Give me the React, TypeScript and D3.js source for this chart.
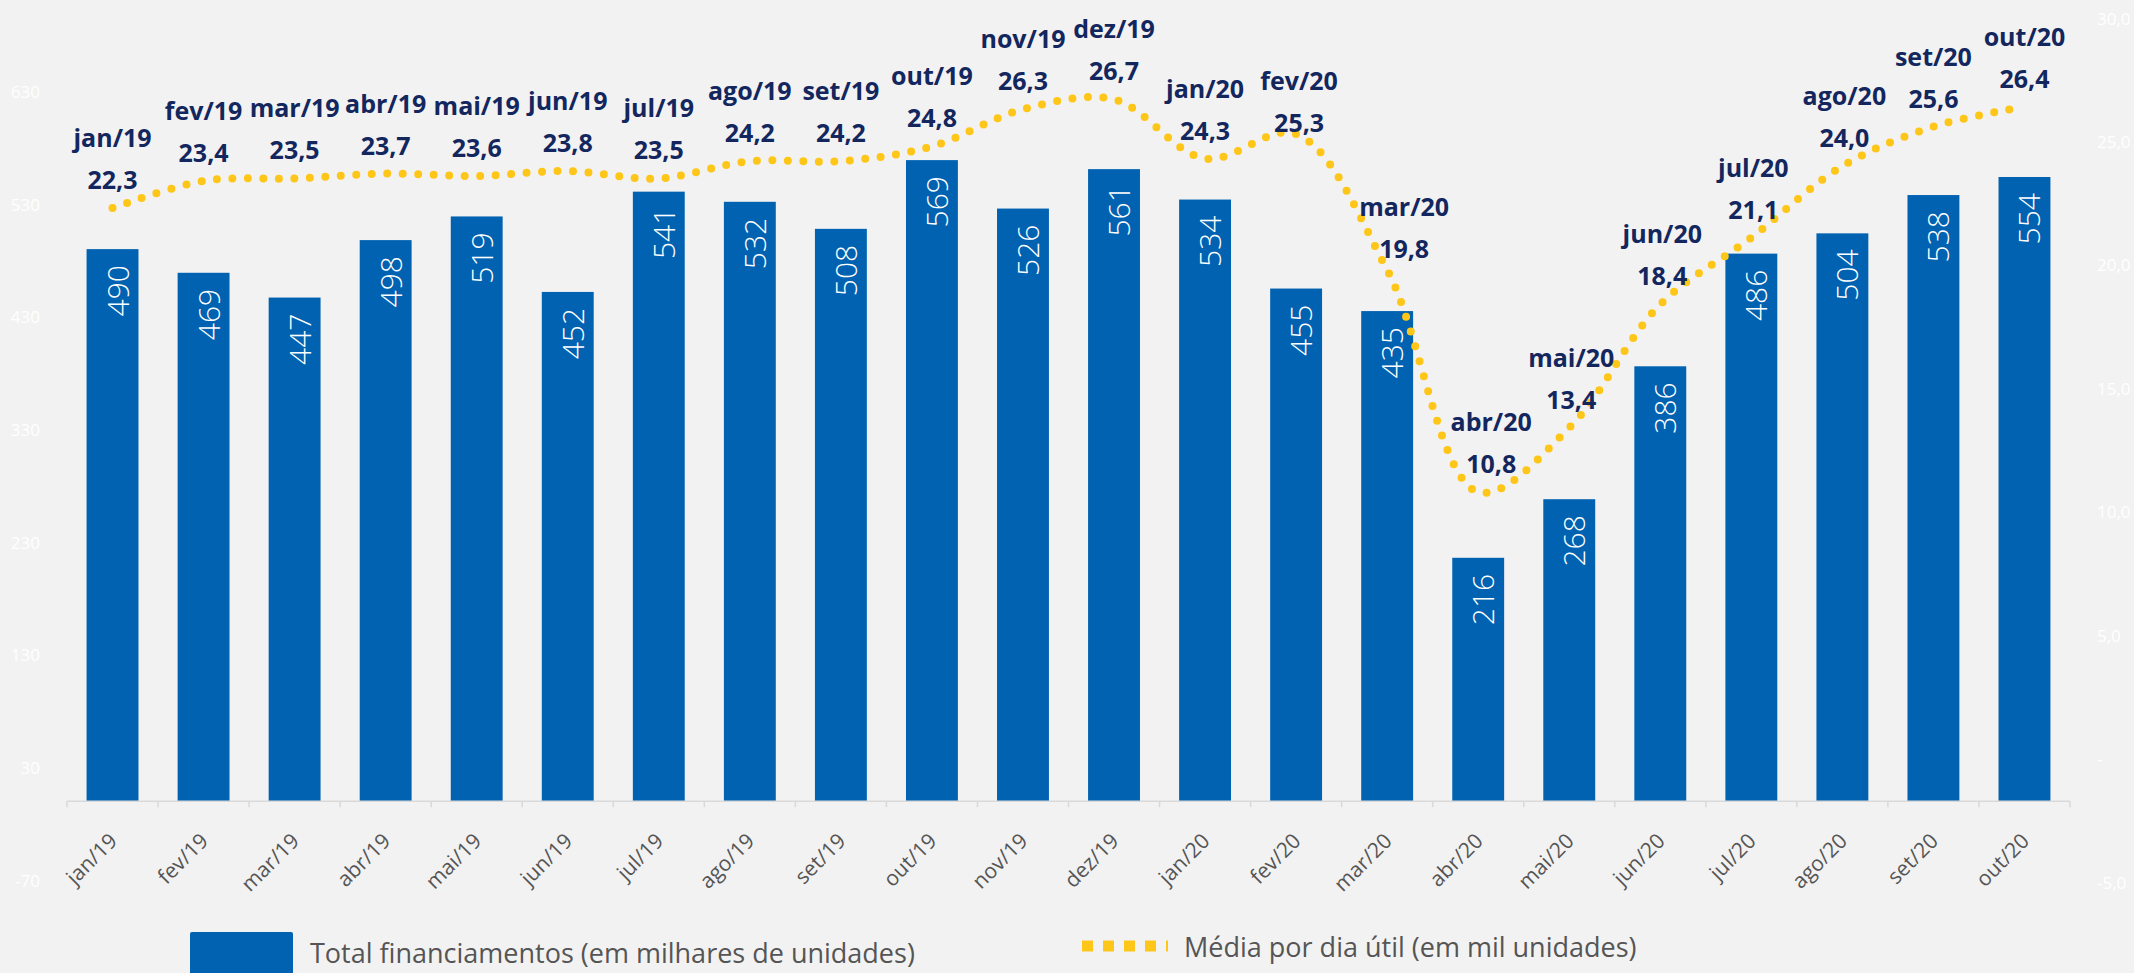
import React from "react";
import * as d3 from "d3";

const months = ["jan/19","fev/19","mar/19","abr/19","mai/19","jun/19","jul/19","ago/19","set/19","out/19","nov/19","dez/19","jan/20","fev/20","mar/20","abr/20","mai/20","jun/20","jul/20","ago/20","set/20","out/20"];
const totalFinanciamentos = [490,469,447,498,519,452,541,532,508,569,526,561,534,455,435,216,268,386,486,504,538,554];
const mediaDiaUtil = [22.3,23.4,23.5,23.7,23.6,23.8,23.5,24.2,24.2,24.8,26.3,26.7,24.3,25.3,19.8,10.8,13.4,18.4,21.1,24.0,25.6,26.4];
const leftTicks = [630,530,430,330,230,130,30,-70];
const rightTicks = [30,25,20,15,10,5,0,-5];
// label placement tweaks (px): horizontal shift and lift of the value label above the point
const labelDx = [0,0,0,0,0,0,0,0,0,0,0,0,0,3,17,13,2,2,2,2,0,0];
const labelLift = [29,29,29,29,29,29,29,29,29,29,29,29,29,12,22,29,29,29,29,29,29,29];

const W = 2134, H = 973;
const FONT = "'Open Sans', 'Noto Sans', sans-serif";
const BLUE = "#0062B1";
const YELLOW = "#FFC61A";
const NAVY = "#13275E";

const fmt = (v: number) => v.toFixed(1).replace(".", ",");
const fmtRight = (v: number) => (v === 0 ? "-" : v.toFixed(1).replace(".", ","));

export default function App() {
  const x = d3.scaleBand<string>().domain(months).range([67, 2070]).paddingInner(0.43).paddingOuter(0.215);
  const yL = d3.scaleLinear().domain([-70, 630]).range([880, 91.4]);
  const yR = d3.scaleLinear().domain([-5, 30]).range([882, 18]);
  const base = yL(0);
  const cx = (m: string) => (x(m) as number) + x.bandwidth() / 2;

  const line = d3
    .line<number>()
    .x((_, i) => cx(months[i]))
    .y((d) => yR(d))
    .curve(d3.curveCatmullRom.alpha(0.5));

  const step = x.step();
  const tickXs = d3.range(months.length + 1).map((i) => 67 + i * step);

  return (
    <div style={{ position: "absolute", left: 0, top: 0 }}>
      <svg width={W} height={H} style={{ display: "block", fontFamily: FONT }}>
        <rect x={0} y={0} width={W} height={H} fill="#F2F2F2" />

        {/* left axis labels */}
        {leftTicks.map((t) => (
          <text key={"l" + t} x={40} y={yL(t)} textAnchor="end" dominantBaseline="central" fontSize={17} fill="#FFFFFF">
            {t}
          </text>
        ))}
        {/* right axis labels */}
        {rightTicks.map((t) => (
          <text key={"r" + t} x={2097} y={yR(t)} textAnchor="start" dominantBaseline="central" fontSize={17} fill="#FFFFFF">
            {fmtRight(t)}
          </text>
        ))}

        {/* bars */}
        {months.map((m, i) => (
          <rect key={"b" + m} x={x(m)} y={yL(totalFinanciamentos[i])} width={x.bandwidth()} height={base - yL(totalFinanciamentos[i])} fill={BLUE} />
        ))}
        {/* bar value labels */}
        {months.map((m, i) => (
          <text
            key={"bv" + m}
            transform={`translate(${cx(m) + 16},${yL(totalFinanciamentos[i]) + 16}) rotate(-90)`}
            textAnchor="end"
            fontSize={30}
            fontWeight={300}
            fill="#FFFFFF"
          >
            {totalFinanciamentos[i]}
          </text>
        ))}

        {/* x axis */}
        <line x1={67} x2={2070} y1={base} y2={base} stroke="#D9D9D9" strokeWidth={1.5} />
        {tickXs.map((tx, i) => (
          <line key={"t" + i} x1={tx} x2={tx} y1={base} y2={base + 6} stroke="#D9D9D9" strokeWidth={1.5} />
        ))}
        {months.map((m) => (
          <text
            key={"xl" + m}
            transform={`translate(${cx(m) + 6},${base + 41}) rotate(-45)`}
            textAnchor="end"
            fontSize={21}
            fontWeight={400}
            fill="#555555"
          >
            {m}
          </text>
        ))}

        {/* dotted line */}
        <path
          d={line(mediaDiaUtil) || ""}
          fill="none"
          stroke={YELLOW}
          strokeWidth={8}
          strokeLinecap="round"
          strokeDasharray="0 15.5"
        />

        {/* line labels */}
        {months.map((m, i) => {
          const vy = yR(mediaDiaUtil[i]) - labelLift[i];
          const lx = cx(m) + labelDx[i];
          return (
            <g key={"ll" + m}>
              <text x={lx} y={vy - 42} textAnchor="middle" dominantBaseline="central" fontSize={25} fontWeight={700} fill={NAVY}>
                {m}
              </text>
              <text x={lx} y={vy} textAnchor="middle" dominantBaseline="central" fontSize={25} fontWeight={700} fill={NAVY}>
                {fmt(mediaDiaUtil[i])}
              </text>
            </g>
          );
        })}

        {/* legend */}
        <rect x={190} y={932} width={103} height={45} rx={2} fill={BLUE} />
        <text x={310} y={952} dominantBaseline="central" fontSize={27} fill="#555555">
          Total financiamentos (em milhares de unidades)
        </text>
        <line x1={1082} x2={1168} y1={946} y2={946} stroke={YELLOW} strokeWidth={11} strokeDasharray="11 10" />
        <text x={1184} y={946} dominantBaseline="central" fontSize={27} fill="#555555">
          Média por dia útil (em mil unidades)
        </text>
      </svg>
    </div>
  );
}
